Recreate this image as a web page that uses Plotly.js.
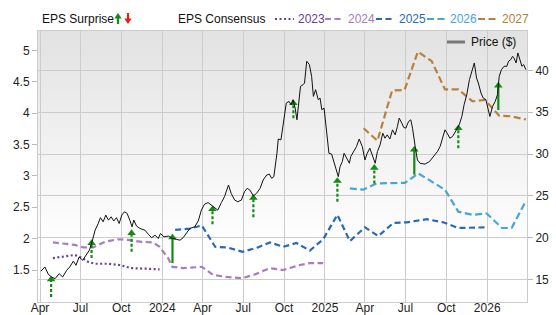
<!DOCTYPE html>
<html><head><meta charset="utf-8">
<script src="https://cdn.plot.ly/plotly-3.0.1.min.js"></script>
<style>html,body{margin:0;padding:0;background:#fff}#chart{width:556px;height:315px}</style>
</head><body><div id="chart"></div>
<script>
// ---------------- DATA ----------------
const priceDates = ['2023-04-03','2023-04-12','2023-04-20','2023-04-27','2023-05-05','2023-05-14','2023-05-22','2023-05-31','2023-06-07','2023-06-15','2023-06-21','2023-06-28','2023-07-06','2023-07-13','2023-07-21','2023-07-27','2023-08-03','2023-08-10','2023-08-15','2023-08-21','2023-08-27','2023-09-02','2023-09-08','2023-09-14','2023-09-20','2023-09-26','2023-10-02','2023-10-08','2023-10-14','2023-10-20','2023-10-25','2023-10-29','2023-11-04','2023-11-12','2023-11-23','2023-12-01','2023-12-08','2023-12-16','2023-12-23','2023-12-28','2024-01-05','2024-01-15','2024-01-24','2024-02-02','2024-02-10','2024-02-17','2024-02-25','2024-03-03','2024-03-14','2024-03-22','2024-03-29','2024-04-05','2024-04-13','2024-04-20','2024-04-28','2024-05-05','2024-05-13','2024-05-20','2024-05-29','2024-06-04','2024-06-12','2024-06-19','2024-06-27','2024-07-04','2024-07-10','2024-07-16','2024-07-24','2024-07-31','2024-08-08','2024-08-15','2024-08-23','2024-08-29','2024-09-03','2024-09-08','2024-09-15','2024-09-18','2024-09-24','2024-09-30','2024-10-06','2024-10-12','2024-10-17','2024-10-21','2024-10-26','2024-10-30','2024-11-03','2024-11-07','2024-11-13','2024-11-16','2024-11-21','2024-11-27','2024-12-02','2024-12-06','2024-12-11','2024-12-17','2024-12-21','2024-12-25','2024-12-30','2025-01-05','2025-01-10','2025-01-16','2025-01-22','2025-01-26','2025-01-31','2025-02-04','2025-02-09','2025-02-13','2025-02-19','2025-02-25','2025-02-28','2025-03-06','2025-03-13','2025-03-19','2025-03-26','2025-04-01','2025-04-06','2025-04-12','2025-04-18','2025-04-24','2025-04-29','2025-05-05','2025-05-11','2025-05-16','2025-05-21','2025-05-27','2025-06-02','2025-06-08','2025-06-13','2025-06-17','2025-06-23','2025-06-27','2025-07-02','2025-07-08','2025-07-13','2025-07-17','2025-07-23','2025-07-28','2025-08-03','2025-08-14','2025-08-24','2025-09-02','2025-09-11','2025-09-17','2025-09-23','2025-09-28','2025-10-03','2025-10-09','2025-10-15','2025-10-20','2025-10-26','2025-10-30','2025-11-05','2025-11-10','2025-11-16','2025-11-22','2025-11-27','2025-12-03','2025-12-08','2025-12-12','2025-12-18','2025-12-23','2025-12-29','2026-01-03','2026-01-07','2026-01-13','2026-01-19','2026-01-24','2026-01-28','2026-02-02','2026-02-08','2026-02-14','2026-02-18','2026-02-23','2026-02-27','2026-03-02','2026-03-07','2026-03-11','2026-03-16','2026-03-20','2026-03-24','2026-03-29'];
const priceValues = [16.0,16.5,15.6,15.3,15.1,15.7,15.3,16.1,16.5,17.2,16.7,17.7,17.3,17.9,18.5,19.5,20.9,21.7,22.4,21.9,22.7,22.1,22.5,22.0,22.4,21.7,22.7,23.1,22.9,22.1,21.3,22.1,21.4,21.1,20.9,20.4,20.0,20.3,19.9,20.5,20.1,20.2,19.9,19.8,19.7,20.0,20.6,21.1,21.3,22.0,23.3,24.0,24.2,23.9,23.6,23.3,24.2,24.9,26.3,25.3,24.5,24.3,24.5,25.5,25.9,25.7,25.0,25.3,25.9,26.9,27.5,27.6,27.1,27.3,30.1,31.8,31.7,34.1,36.1,36.3,35.9,36.5,35.5,34.1,35.9,38.1,38.3,38.5,41.1,40.7,39.3,36.9,37.7,36.5,36.7,35.3,35.5,32.9,30.1,30.0,28.9,28.1,27.3,28.5,29.1,30.1,29.5,28.9,29.7,30.3,30.9,31.8,30.9,29.3,30.1,30.7,29.7,28.9,30.3,31.1,32.5,31.9,32.3,31.8,32.9,32.3,33.3,34.3,33.7,33.2,33.1,33.9,34.1,33.1,30.9,29.3,28.9,28.8,29.1,29.7,30.3,30.9,32.1,32.9,32.5,31.9,32.1,32.5,33.1,33.5,34.5,35.9,37.1,38.9,39.9,40.9,39.1,38.5,37.3,36.7,36.5,35.5,34.5,35.7,36.3,37.1,39.3,40.1,40.5,40.5,41.1,41.3,41.7,41.5,40.9,42.1,41.3,40.5,40.7,40.1];

const eps2023Dates = ['2023-04-30','2023-05-26','2023-06-18','2023-07-03','2023-07-18','2023-08-02','2023-09-01','2023-09-27','2023-10-23','2023-11-30','2023-12-26'];
const eps2023Values = [1.69,1.72,1.74,1.70,1.63,1.60,1.60,1.58,1.53,1.52,1.51];

const eps2024Dates = ['2023-04-30','2023-06-18','2023-07-07','2023-07-29','2023-08-25','2023-09-23','2023-10-16','2023-11-15','2023-12-11','2023-12-26','2024-01-14','2024-01-24','2024-02-17','2024-03-30','2024-04-25','2024-05-25','2024-06-28','2024-07-24','2024-08-30','2024-09-29','2024-11-06','2024-11-28','2024-12-28'];
const eps2024Values = [1.94,1.90,1.86,1.86,1.95,1.99,1.98,1.95,1.94,1.87,1.69,1.55,1.53,1.55,1.42,1.39,1.37,1.42,1.53,1.50,1.58,1.61,1.61];

const eps2025Dates = ['2024-01-30','2024-03-03','2024-03-30','2024-04-29','2024-05-26','2024-06-30','2024-08-03','2024-08-30','2024-09-29','2024-10-29','2024-11-28','2024-12-28','2025-01-29','2025-02-26','2025-04-01','2025-05-01','2025-06-04','2025-07-04','2025-08-18','2025-09-24','2025-10-28','2025-12-27'];
const eps2025Values = [2.14,2.16,2.21,1.87,1.86,1.79,1.86,1.94,1.87,1.93,1.81,1.99,2.38,1.96,2.18,2.04,2.25,2.26,2.31,2.26,2.17,2.18];

const eps2026Dates = ['2025-02-26','2025-03-28','2025-04-27','2025-06-30','2025-07-30','2025-09-28','2025-10-28','2025-11-29','2025-12-31','2026-02-03','2026-02-25','2026-03-29'];
const eps2026Values = [2.80,2.78,2.88,2.89,3.04,2.78,2.43,2.38,2.40,2.17,2.17,2.60];

const eps2027Dates = ['2025-03-29','2025-04-29','2025-06-01','2025-06-29','2025-07-29','2025-08-29','2025-09-28','2025-10-28','2025-11-29','2025-12-27','2026-01-28','2026-02-24','2026-03-29'];
const eps2027Values = [3.76,3.56,4.36,4.37,4.98,4.83,4.38,4.38,4.19,4.21,3.96,3.95,3.90];

// EPS surprise arrows: date, consensus (base), reported (head)
const surpriseDates = ['2023-04-26','2023-07-26','2023-10-24','2024-01-24','2024-04-23','2024-07-24','2024-10-22','2025-01-29','2025-04-22','2025-07-21','2025-10-28','2026-01-26'];
const surpriseBase  = [1.07,1.69,1.79,1.61,2.23,2.34,3.92,2.59,2.88,3.02,3.44,4.05];
const surpriseTop   = [1.35,1.93,2.09,2.02,2.47,2.65,4.16,2.92,3.13,3.42,3.76,4.44];
const surpriseSolid = [false,false,false,true,false,false,false,false,false,true,false,true];

const tickDates = ['2023-04-01','2023-07-01','2023-10-01','2024-01-01','2024-04-01','2024-07-01','2024-10-01','2025-01-01','2025-04-01','2025-07-01','2025-10-01','2026-01-01'];
const tickLabels = ['Apr','Jul','Oct','2024','Apr','Jul','Oct','2025','Apr','Jul','Oct','2026'];
const epsTicks = [1.5,2,2.5,3,3.5,4,4.5,5];
const priceTicks = [15,20,25,30,35,40];

const seriesNames = ['2023','2024','2025','2026','2027'];
// ---------------- STYLE ----------------
const colors = {'2023':'#6e3c96','2024':'#a57dc3','2025':'#2a69b4','2026':'#48a6d4','2027':'#b4823c'};
const dashes = {'2023':'2px,2.5px','2024':'6px,3.5px','2025':'6px,3.5px','2026':'7px,3.5px','2027':'7px,3.5px'};
const green = '#168a16', red = '#e3201c';
const FONT = 'Liberation Sans, Arial, sans-serif';

const L=38, R=527, T=31, B=302;
const px = x => (x-L)/(R-L);
const py = y => (B-y)/(B-T);

const epsSeries = {
  '2023':[eps2023Dates,eps2023Values],'2024':[eps2024Dates,eps2024Values],
  '2025':[eps2025Dates,eps2025Values],'2026':[eps2026Dates,eps2026Values],
  '2027':[eps2027Dates,eps2027Values]};

const traces = [];
seriesNames.forEach(n => {
  traces.push({x:epsSeries[n][0], y:epsSeries[n][1], type:'scatter', mode:'lines', yaxis:'y',
    line:{color:colors[n], width:2.2, dash:dashes[n]}, hoverinfo:'skip', showlegend:false});
});
// surprise stems
function stems(solid){
  const xs=[], ys=[];
  surpriseDates.forEach((d,i)=>{ if(surpriseSolid[i]===solid){ xs.push(d,d,null); ys.push(surpriseBase[i],surpriseTop[i],null);} });
  return {x:xs, y:ys, type:'scatter', mode:'lines', yaxis:'y', connectgaps:false,
    line:{color:green, width:2.2, dash: solid?'solid':'3px,2px'}, hoverinfo:'skip', showlegend:false};
}
traces.push(stems(false));
traces.push(stems(true));
traces.push({x:surpriseDates, y:surpriseTop, type:'scatter', mode:'markers', yaxis:'y',
  marker:{symbol:'triangle-up', size:7.5, color:green}, hoverinfo:'skip', showlegend:false});
// price
traces.push({x:priceDates, y:priceValues, type:'scatter', mode:'lines', yaxis:'y2',
  line:{color:'#111', width:1}, hoverinfo:'skip', showlegend:false});

// ---------- legend (manual) ----------
const LY = 19;
const shapes = [];
const annotations = [];
function txt(x, y, s, color){ annotations.push({xref:'paper', yref:'paper', x:px(x), y:py(y), text:s, showarrow:false,
  xanchor:'left', yanchor:'middle', font:{family:FONT, size:12, color:color}}); }
txt(39.5, LY, 'EPS Surprise', '#111');
// green up arrow
shapes.push({type:'line', xref:'paper', yref:'paper', x0:px(118), x1:px(118), y0:py(LY+5), y1:py(LY-1), line:{color:green, width:2.2}});
shapes.push({type:'path', xref:'paper', yref:'paper', path:`M ${px(114.3)} ${py(LY-0.5)} L ${px(121.7)} ${py(LY-0.5)} L ${px(118)} ${py(LY-6)} Z`, fillcolor:green, line:{width:0}});
// red down arrow
shapes.push({type:'line', xref:'paper', yref:'paper', x0:px(128), x1:px(128), y0:py(LY-6), y1:py(LY), line:{color:red, width:2.2}});
shapes.push({type:'path', xref:'paper', yref:'paper', path:`M ${px(124.3)} ${py(LY-0.5)} L ${px(131.7)} ${py(LY-0.5)} L ${px(128)} ${py(LY+5)} Z`, fillcolor:red, line:{width:0}});
txt(176, LY, 'EPS Consensus', '#111');
const legPos = {'2023':[275,294,296],'2024':[325,342,346],'2025':[376,394,397],'2026':[427,445,448],'2027':[478,497,500]};
seriesNames.forEach(n => {
  const p = legPos[n];
  shapes.push({type:'line', xref:'paper', yref:'paper', x0:px(p[0]), x1:px(p[1]), y0:py(LY), y1:py(LY),
    line:{color:colors[n], width:2.2, dash:dashes[n]}});
  txt(p[2], LY, n, colors[n]);
});
// price legend
shapes.push({type:'line', xref:'paper', yref:'paper', x0:px(447), x1:px(465), y0:py(42), y1:py(42), line:{color:'#777', width:3}});
txt(469, 42, 'Price ($)', '#111');

const gradSvg = '<svg xmlns="http://www.w3.org/2000/svg" width="100" height="100" preserveAspectRatio="none"><defs><linearGradient id="g" x1="0" y1="0" x2="0" y2="1"><stop offset="0" stop-color="#e2e2e2"/><stop offset="0.8" stop-color="#ffffff"/></linearGradient></defs><rect width="100" height="100" fill="url(#g)"/></svg>';

const layout = {
  width:556, height:315,
  margin:{l:L, r:556-R, t:T, b:315-B, pad:0},
  paper_bgcolor:'#ffffff', plot_bgcolor:'rgba(0,0,0,0)',
  font:{family:FONT, size:12, color:'#222'},
  showlegend:false,
  images:[{source:'data:image/svg+xml;charset=utf-8,'+encodeURIComponent(gradSvg), xref:'paper', yref:'paper',
    x:0, y:1, sizex:1, sizey:1, sizing:'stretch', xanchor:'left', yanchor:'top', layer:'below'}],
  xaxis:{type:'date', range:['2023-03-27 12:00','2026-03-31 12:00'], tickvals:tickDates, ticktext:tickLabels,
    showgrid:true, gridcolor:'#cccccc', gridwidth:1, showline:true, mirror:true, linecolor:'#cccccc', linewidth:1,
    ticks:'', ticklen:0, ticklabelstandoff:-5, tickfont:{size:12, color:'#222'}, zeroline:false, fixedrange:true},
  yaxis:{range:[0.99,5.31], tickvals:epsTicks, ticktext:epsTicks.map(String), showgrid:false, zeroline:false,
    showline:true, linecolor:'#cccccc', ticks:'outside', ticklen:5, tickcolor:'#bbbbbb', tickfont:{size:12, color:'#222'}},
  yaxis2:{range:[12.31,44.72], overlaying:'y', side:'right', tickvals:priceTicks, showgrid:true, gridcolor:'#cccccc',
    zeroline:false, showline:true, linecolor:'#cccccc', ticks:'outside', ticklen:5, tickcolor:'#bbbbbb', tickfont:{size:12, color:'#222'}},
  shapes:shapes, annotations:annotations
};
Plotly.newPlot('chart', traces, layout, {staticPlot:true, displayModeBar:false});
</script></body></html>
